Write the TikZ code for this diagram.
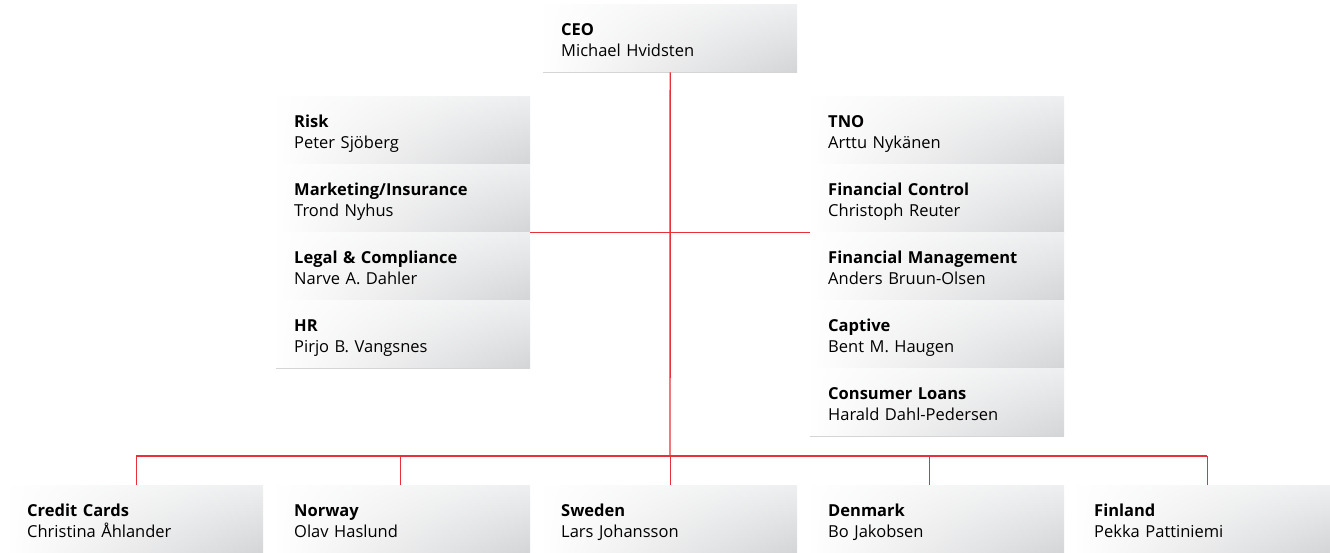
\documentclass[tikz,border=0pt]{standalone}
\usepackage{fontspec}
\setmainfont{Open Sans}
\usetikzlibrary{fadings}
\definecolor{linered}{HTML}{E8303A}
\definecolor{boxtop}{HTML}{EEEFF0}
\definecolor{boxbot}{HTML}{D4D5D7}
\tikzset{
  unit/.style={rectangle, anchor=north west, top color=boxtop, bottom color=boxbot,
    inner xsep=18pt, inner ysep=0pt, text width=218pt, align=left,
    text height=31pt, text depth=37pt, font=\fontsize{16.5}{21}\selectfont,
    path picture={\fill[white, path fading=east] (path picture bounding box.south west)
      rectangle (path picture bounding box.north east);}},
  link/.style={draw=linered, line width=1.4pt}
}
\begin{document}
\begin{tikzpicture}[x=1pt, y=-1pt]
      \useasboundingbox (0,0) rectangle (1330,553);
      \def \Units{
        ceo/543/4/CEO/Michael Hvidsten,
        risk/276/96/Risk/Peter Sjöberg,
        mkt/276/164/{Marketing/Insurance}/Trond Nyhus,
        legal/276/232/Legal \& Compliance/Narve A. Dahler,
        hr/276/300/HR/Pirjo B. Vangsnes,
        tno/810/96/TNO/Arttu Nykänen,
        fc/810/164/Financial Control/Christoph Reuter,
        fm/810/232/Financial Management/Anders Bruun-Olsen,
        capt/810/300/Captive/Bent M. Haugen,
        cl/810/368/Consumer Loans/Harald Dahl-Pedersen,
        cc/9/485/Credit Cards/Christina Åhlander,
        nor/276/485/Norway/Olav Haslund,
        swe/543/485/Sweden/Lars Johansson,
        den/810/485/Denmark/Bo Jakobsen,
        fin/1076/485/Finland/Pekka Pattiniemi}
      \def \Drops{
        cc/0,
        nor/-3,
        swe/0,
        den/-8,
        fin/4}
      \foreach \id / \x / \y / \head / \who in \Units{
        \node[unit] (\id) at (\x, \y) {\textbf{\head}\\\who};
      }
      \coordinate (bus) at (670,456);
      \path[link] (ceo.south) -- (bus);
      \path[link] (mkt.south east) -- (fc.south west);
      \path[link] (cc.north |- bus) -- ([xshift=4pt]fin.north |- bus);
      \foreach \id / \dx in \Drops{
        \path[link] ([xshift=\dx pt]\id.north) -- ([xshift=\dx pt]\id.north |- bus);
      }
    \end{tikzpicture}
\end{document}
